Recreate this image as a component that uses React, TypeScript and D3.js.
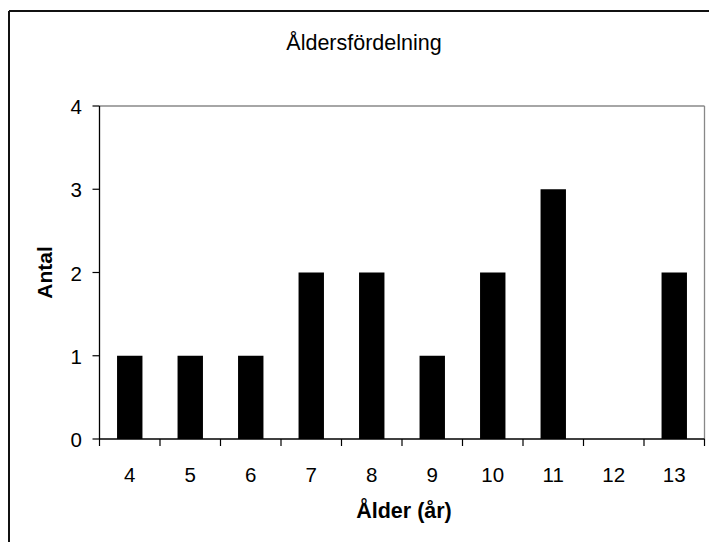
import React from "react";
import * as d3 from "d3";

const categories = ["4", "5", "6", "7", "8", "9", "10", "11", "12", "13"];
const counts = [1, 1, 1, 2, 2, 1, 2, 3, 0, 2];
const yTicks = [0, 1, 2, 3, 4];
const title = "Åldersfördelning";
const xTitle = "Ålder (år)";
const yTitle = "Antal";

export default function App() {
  const W = 709, H = 542;
  const left = 99.5, right = 704.5, top = 106, bottom = 439;
  const x = d3.scaleBand<string>().domain(categories).range([left, right]).paddingInner(0.58).paddingOuter(0.29);
  const xb = d3.scaleBand<string>().domain(categories).range([left, right]);
  const y = d3.scaleLinear().domain([0, 4]).range([bottom, top]);
  const font = "'Liberation Sans', Arial, sans-serif";
  return (
    <svg width={W} height={H} style={{ position: "absolute", left: 0, top: 0, background: "#fff" }} fontFamily={font}>
      <rect x={0} y={0} width={W} height={H} fill="#fff" />
      <line x1={9} y1={11} x2={W} y2={11} stroke="#111" strokeWidth={2} />
      <line x1={9} y1={11} x2={9} y2={H} stroke="#111" strokeWidth={2} />
      <text x={364} y={50} textAnchor="middle" fontSize={21.5}>{title}</text>
      <line x1={left} y1={top} x2={right} y2={top} stroke="#888" strokeWidth={1.3} />
      <line x1={right} y1={top} x2={right} y2={bottom} stroke="#888" strokeWidth={1.3} />
      {categories.map((c, i) => (
        <rect key={c} x={x(c)!} width={x.bandwidth()} y={y(counts[i])} height={bottom - y(counts[i])} fill="#000" />
      ))}
      <line x1={left} y1={top} x2={left} y2={bottom} stroke="#000" strokeWidth={1.3} />
      <line x1={left} y1={bottom} x2={right} y2={bottom} stroke="#000" strokeWidth={1.3} />
      {yTicks.map((t) => (
        <g key={t}>
          <line x1={left - 7} x2={left} y1={y(t)} y2={y(t)} stroke="#000" strokeWidth={1.2} />
          <text x={82} y={y(t) + 8} textAnchor="end" fontSize={20.5}>{t}</text>
        </g>
      ))}
      {categories.map((c) => (
        <line key={"t" + c} x1={xb(c)!} x2={xb(c)!} y1={bottom} y2={bottom + 7} stroke="#000" strokeWidth={1.2} />
      ))}
      <line x1={right} x2={right} y1={bottom} y2={bottom + 7} stroke="#000" strokeWidth={1.2} />
      {categories.map((c) => (
        <text key={"l" + c} x={xb(c)! + xb.bandwidth() / 2} y={482} textAnchor="middle" fontSize={20.5}>{c}</text>
      ))}
      <text x={404} y={518} textAnchor="middle" fontSize={21.5} fontWeight="bold">{xTitle}</text>
      <text transform={`translate(52,${(top + bottom) / 2}) rotate(-90)`} textAnchor="middle" fontSize={21} fontWeight="bold">{yTitle}</text>
    </svg>
  );
}
